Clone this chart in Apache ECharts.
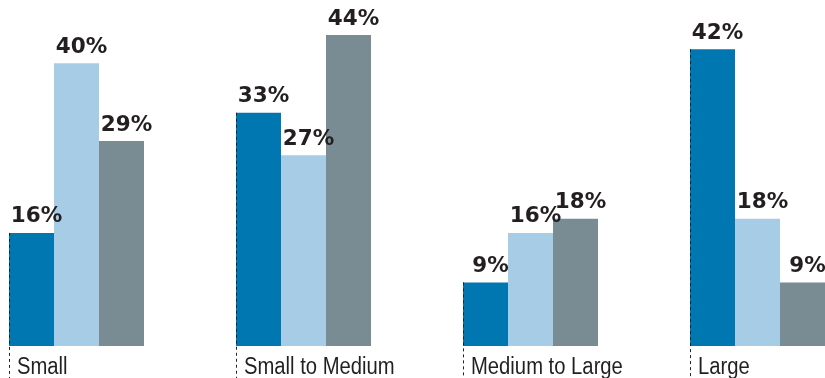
<!DOCTYPE html>
<html><head><meta charset="utf-8">
<script src="https://cdn.jsdelivr.net/npm/echarts@6/dist/echarts.min.js"></script>
<style>html,body{margin:0;padding:0;background:#fff}#c{width:825px;height:378px}</style>
</head><body><div id="c"></div>
<script>
const categories = ['Small', 'Small to Medium', 'Medium to Large', 'Large'];
const seriesA = [16, 33, 9, 42];
const seriesB = [40, 27, 16, 18];
const seriesC = [29, 44, 18, 9];
const colors = ['#0077B0', '#A7CCE6', '#798B93'];
const BAR_W = 45;

const chart = echarts.init(document.getElementById('c'));
const valueLabel = {
  show: true, position: 'top', distance: 5, offset: [5, 0],
  formatter: p => p.value + '%',
  fontFamily: 'DejaVu Sans', fontWeight: 'bold', fontSize: 21.5, color: '#231f20'
};
function bar(name, data, color) {
  return { name, type: 'bar', data, barWidth: BAR_W, barGap: '0%',
    itemStyle: { color }, label: valueLabel, z: 2 };
}
chart.setOption({
  animation: false,
  grid: { left: -37, right: -46, top: 35, bottom: 32, outerBoundsMode: 'none', containLabel: false },
  xAxis: { type: 'category', data: categories, axisLine: { show: false }, axisTick: { show: false }, axisLabel: { show: false } },
  yAxis: { type: 'value', min: 0, max: 44, show: false, splitLine: { show: false } },
  series: [
    bar('A', seriesA, colors[0]),
    bar('B', seriesB, colors[1]),
    bar('C', seriesC, colors[2]),
    {
      type: 'custom', clip: false, z: 5,
      data: seriesA.map((v, i) => [i, v]),
      renderItem: (params, api) => {
        const top = api.coord([api.value(0), api.value(1)]);
        const base = api.coord([api.value(0), 0]);
        const x = Math.round(top[0] - 1.5 * BAR_W) + 0.5;
        return { type: 'group', children: [
          { type: 'line', shape: { x1: x, y1: top[1], x2: x, y2: base[1] + 40 },
            style: { stroke: '#222', lineWidth: 1, lineDash: [3, 3] } },
          { type: 'text', x: x + 7.5, y: base[1] + 10, scaleX: 0.88,
            style: { x: 0, y: 0, text: categories[params.dataIndex],
            fill: '#231f20', fontFamily: 'Liberation Sans', fontSize: 23, verticalAlign: 'top', align: 'left' } }
        ]};
      }
    }
  ]
});
</script></body></html>
